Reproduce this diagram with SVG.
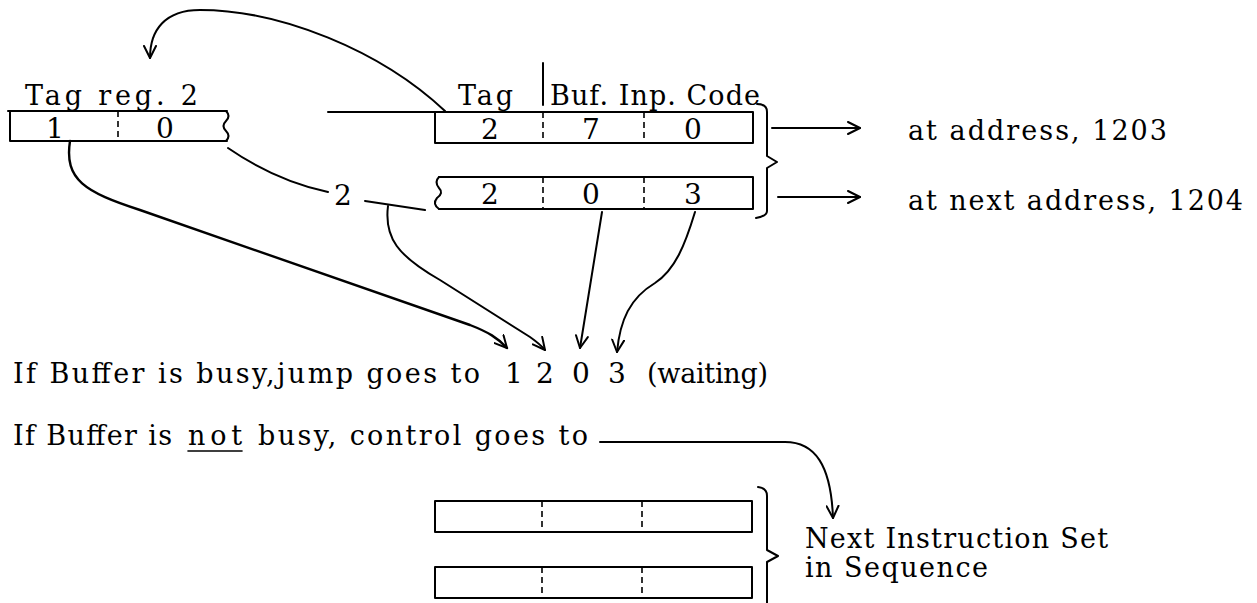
<svg xmlns="http://www.w3.org/2000/svg" width="1257" height="603" viewBox="0 0 1257 603">
<style>
.ln{fill:none;stroke:#000;stroke-width:2;stroke-linecap:round;stroke-linejoin:round}
.dash{fill:none;stroke:#000;stroke-width:1.6;stroke-dasharray:6 4}
.t{font-family:"DejaVu Serif","Liberation Serif",serif;font-size:27px;fill:#000}
.d{font-size:28px}
.c{text-anchor:middle}
</style>
<defs>
<marker id="ah" viewBox="0 0 14 14" refX="13" refY="7" markerWidth="14" markerHeight="14" markerUnits="userSpaceOnUse" orient="auto">
<path d="M1,1 L13,7 L1,13" fill="none" stroke="#000" stroke-width="2" stroke-linecap="round" stroke-linejoin="round"/>
</marker>
</defs>
<rect width="1257" height="603" fill="#fff"/>

<g id="tagreg">
<text class="t" x="25" y="105" textLength="173" lengthAdjust="spacing">Tag reg. 2</text>
<path class="ln" d="M8,111 L227,111 M10,111 L10,141 L227,141"/>
<path class="ln" d="M226,111 Q231,116 226,121 Q221,126 226,131 Q231,136 226,141"/>
<line class="dash" x1="118" y1="111" x2="118" y2="141"/>
<text class="t d c" x="55" y="138">1</text>
<text class="t d c" x="165" y="138">0</text>
</g>

<g id="header">
<text class="t" x="458" y="105" textLength="55" lengthAdjust="spacing">Tag</text>
<line class="ln" x1="543" y1="63" x2="543" y2="105"/>
<text class="t" x="550" y="105" textLength="210" lengthAdjust="spacing">Buf. Inp. Code</text>
</g>

<g id="word1203">
<rect class="ln" x="435" y="112" width="318" height="31"/>
<line class="dash" x1="543" y1="112" x2="543" y2="143"/>
<line class="dash" x1="644" y1="112" x2="644" y2="143"/>
<text class="t d c" x="490" y="139">2</text>
<text class="t d c" x="591" y="139">7</text>
<text class="t d c" x="693" y="139">0</text>
</g>

<g id="word1204">
<path class="ln" d="M439,177 L753,177 L753,209 L439,209"/>
<path class="ln" d="M439,177 Q434,182 439,188 Q444,193 437,198 Q432,204 439,209"/>
<line class="dash" x1="543" y1="177" x2="543" y2="209"/>
<line class="dash" x1="644" y1="177" x2="644" y2="209"/>
<text class="t d c" x="490" y="204">2</text>
<text class="t d c" x="591" y="204">0</text>
<text class="t d c" x="693" y="204">3</text>
</g>

<g id="brace1">
<path class="ln" d="M757,104 Q767,104 767,112 L767,156 L777,162 L767,168 L767,211 Q767,216 756,218"/>
</g>

<g id="addr">
<text class="t" x="908" y="140" textLength="259" lengthAdjust="spacing">at address, 1203</text>
<text class="t" x="908" y="210" textLength="335" lengthAdjust="spacing">at next address, 1204</text>
</g>

<g id="label2">
<text class="t d c" x="343" y="205">2</text>
</g>

<g id="line1">
<text class="t" x="13" y="383" textLength="467" lengthAdjust="spacing">If Buffer is busy,jump goes to</text>
<text class="t d c" x="514" y="383">1</text>
<text class="t d c" x="545" y="383">2</text>
<text class="t d c" x="581" y="383">0</text>
<text class="t d c" x="617" y="383">3</text>
<text class="t" x="647" y="383" textLength="121" lengthAdjust="spacing">(waiting)</text>
</g>

<g id="line2">
<text class="t" x="13" y="445" textLength="159" lengthAdjust="spacing">If Buffer is</text>
<text class="t" x="188" y="445" textLength="54" lengthAdjust="spacing">not</text>
<line class="ln" x1="188" y1="451" x2="242" y2="451" style="stroke-width:1.6"/>
<text class="t" x="258" y="445" textLength="330" lengthAdjust="spacing">busy, control goes to</text>
</g>

<g id="next1">
<rect class="ln" x="435" y="501" width="317" height="31"/>
<line class="dash" x1="542" y1="501" x2="542" y2="532"/>
<line class="dash" x1="642" y1="501" x2="642" y2="532"/>
</g>
<g id="next2">
<rect class="ln" x="435" y="567" width="317" height="31"/>
<line class="dash" x1="542" y1="567" x2="542" y2="598"/>
<line class="dash" x1="642" y1="567" x2="642" y2="598"/>
</g>
<g id="brace2">
<path class="ln" d="M758,487 Q767,488 767,496 L767,550 L778,556 L767,562 L767,603"/>
</g>
<g id="nextlabel">
<text class="t" x="805" y="548" textLength="303" lengthAdjust="spacing">Next Instruction Set</text>
<text class="t" x="805" y="577" textLength="183" lengthAdjust="spacing">in Sequence</text>
</g>

<g id="connectors">
<path class="ln" d="M445,111 C380,50 280,10 200,10 C165,10 150,30 150,58" marker-end="url(#ah)"/>
<line class="ln" x1="328" y1="112" x2="435" y2="112"/>
<path class="ln" d="M228,148 C260,170 295,185 328,192"/>
<path class="ln" d="M365,201 L425,210"/>
<path class="ln" d="M70,141 C64,180 85,192 140,210 L470,325 C488,332 498,338 507,348" style="stroke-width:2.4" marker-end="url(#ah)"/>
<path class="ln" d="M388,206 C384,238 398,256 440,280 L530,337 C537,342 541,345 545,350" marker-end="url(#ah)"/>
<path class="ln" d="M602,212 L580,348" marker-end="url(#ah)"/>
<path class="ln" d="M695,212 C685,245 675,270 655,283 C630,298 620,320 617,352" marker-end="url(#ah)"/>
<path class="ln" d="M772,128 L860,128" marker-end="url(#ah)"/>
<path class="ln" d="M778,197 L860,197" marker-end="url(#ah)"/>
<path class="ln" d="M600,442 L785,442 C815,442 831,465 833,518" marker-end="url(#ah)"/>
</g>
</svg>
